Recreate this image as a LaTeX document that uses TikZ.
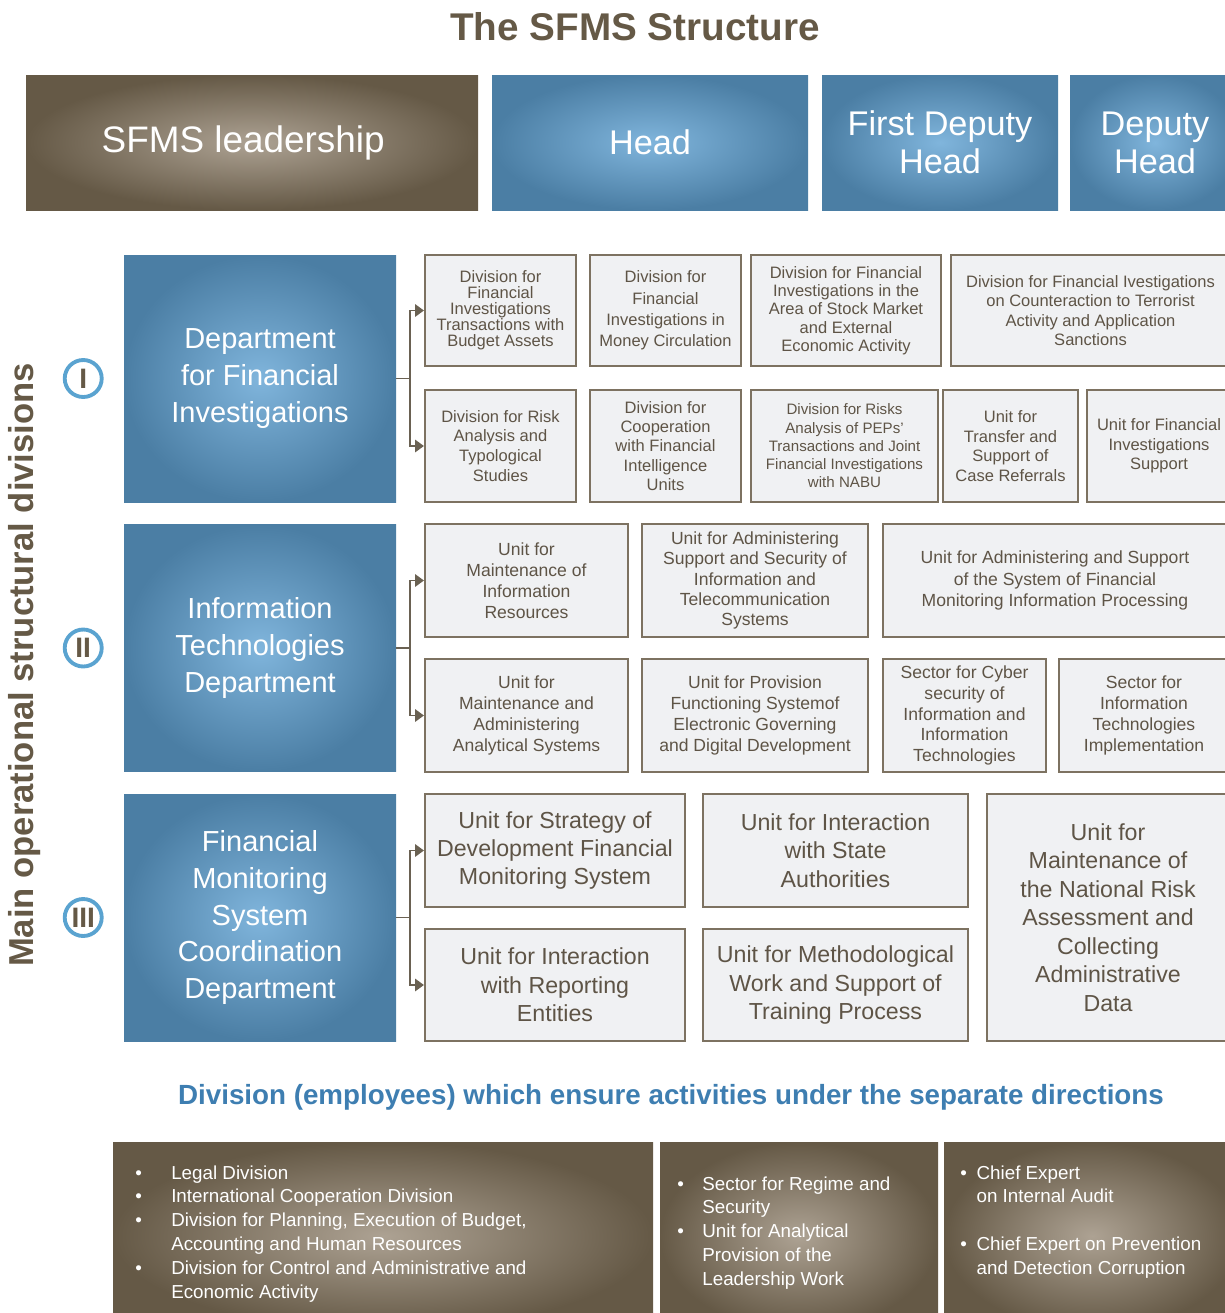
\documentclass[tikz,border=0pt]{standalone}
\usepackage{fontspec}
\setmainfont{Liberation Sans}
\usepackage{xcolor}
\usepackage{tikz}
\usetikzlibrary{arrows.meta, positioning}

\definecolor{sfmsbrown}{HTML}{655946}
\definecolor{sfmsbrownlight}{HTML}{ADA293}
\definecolor{sfmsblue}{HTML}{4B7EA4}
\definecolor{sfmsbluelight}{HTML}{80B5DC}
\definecolor{boxfill}{HTML}{F0F1F3}
\definecolor{boxline}{HTML}{7D7261}
\definecolor{boxtext}{HTML}{5E5446}
\definecolor{ringblue}{HTML}{5AA3D0}
\definecolor{headblue}{HTML}{3E7EB1}

\begin{document}
\begin{tikzpicture}[
				x=0.02cm, y=-0.02cm,
				% Defining node styles
				sz/.style 2 args={minimum width=#1*0.02cm, minimum height=#2*0.02cm},
				lead/.style={rectangle, inner color=sfmsbrownlight, outer color=sfmsbrown, text=white, align=center, font=\fontsize{21}{21.5}\selectfont},
				chief/.style={rectangle, inner color=sfmsbluelight, outer color=sfmsblue, text=white, align=center, font=\fontsize{19.5}{21.5}\selectfont},
				dept/.style={rectangle, inner color=sfmsbluelight, outer color=sfmsblue, text=white, align=center, sz={272}{247}, font=\fontsize{16.5}{21}\selectfont},
				unit/.style={rectangle, fill=boxfill, draw=boxline, line width=1.2pt, text=boxtext, align=center, inner sep=1pt, font=\fontsize{9.4}{11}\selectfont},
				itunit/.style={unit, font=\fontsize{10}{11.9}\selectfont},
				bigunit/.style={unit, font=\fontsize{13.2}{16.2}\selectfont},
				numring/.style={circle, draw=ringblue, line width=2.2pt, minimum size=0.74cm, inner sep=0pt, text=sfmsbrown, font=\fontsize{16}{16}\bfseries\selectfont},
				link/.style={draw=boxline!85!black, line width=1pt},
				conn/.style={link, -{Triangle[length=5pt, width=7pt]}},
				bottom/.style={rectangle, inner color=sfmsbrownlight, outer color=sfmsbrown},
				bullets/.style={text=white, inner sep=0pt, anchor=base west, font=\fontsize{10.7}{13.6}\selectfont}
			]

			\useasboundingbox (0,0) rectangle (1225,1313);
			\clip (0,0) rectangle (1225,1313);

			% Title and side caption
			\node[text=sfmsbrown, font=\fontsize{22}{22}\bfseries\selectfont] (title) at (635,27) {The SFMS Structure};
			\node[rotate=90, text=sfmsbrown, font=\fontsize{19.7}{20}\bfseries\selectfont] (side) at (25,665) {Main operational structural divisions};

			% Leadership row
			\node[lead, sz={452}{135}] (lead) at (252,142.5) {SFMS leadership\hspace*{10pt}};
			\node[chief, sz={316}{135}] (head) at (650,142.5) {Head};
			\node[chief, sz={236}{135}] (fdhead) at (940,142.5) {First Deputy\\Head};
			\node[chief, sz={170}{135}] (dhead) at (1155,142.5) {Deputy\\Head};

			% Departments
			\node[dept] (dfi) at (260,378.5) {Department\\for Financial\\Investigations};
			\node[dept] (dit) at (260,648) {Information\\Technologies\\Department};
			\node[dept] (dfm) at (260,917.5) {Financial\\Monitoring\\System\\Coordination\\Department};

			\node[numring, left=0.4cm of dfi] (n1) {I};
			\node[numring, left=0.4cm of dit] (n2) {II};
			\node[numring, left=0.4cm of dfm] (n3) {III};

			% Department for Financial Investigations
			\node[unit, sz={151}{111}, font=\fontsize{9.4}{9.1}\selectfont] (b11) at (500.5,310.5) {Division for\\Financial\\Investigations\\Transactions with\\Budget Assets};
			\node[unit, sz={151}{111}, font=\fontsize{9.4}{12.2}\selectfont] (b12) at (665.5,310.5) {Division for\\Financial\\Investigations in\\Money Circulation};
			\node[unit, sz={190}{111}, font=\fontsize{9.4}{10.4}\selectfont] (b13) at (846,310.5) {Division for Financial\\Investigations in the\\Area of Stock Market\\and External\\Economic Activity};
			\node[unit, sz={279}{111}] (b14) at (1090.5,310.5) {Division for Financial Ivestigations\\on Counteraction to Terrorist\\Activity and Application\\Sanctions};
			\node[unit, sz={151}{112}, font=\fontsize{9.4}{11.3}\selectfont] (b21) at (500.5,446) {Division for Risk\\Analysis and\\Typological\\Studies};
			\node[unit, sz={151}{112}] (b22) at (665.5,446) {Division for\\Cooperation\\with Financial\\Intelligence\\Units};
			\node[unit, sz={187}{112}, font=\fontsize{8.6}{10.4}\selectfont] (b23) at (844.5,446) {Division for Risks\\Analysis of PEPs’\\Transactions and Joint\\Financial Investigations\\with NABU};
			\node[unit, sz={135}{112}, font=\fontsize{9.4}{11.2}\selectfont] (b24) at (1010.5,446) {Unit for\\Transfer and\\Support of\\Case Referrals};
			\node[unit, sz={144}{112}] (b25) at (1159,446) {Unit for Financial\\Investigations\\Support};

			% Information Technologies Department
			\node[itunit, sz={203}{113}] (c11) at (526.5,580.5) {Unit for\\Maintenance of\\Information\\Resources};
			\node[itunit, sz={226}{113}, font=\fontsize{10}{11.5}\selectfont] (c12) at (755,580.5) {Unit for Administering\\Support and Security of\\Information and\\Telecommunication\\Systems};
			\node[itunit, sz={344}{113}, font=\fontsize{10}{12.2}\selectfont] (c13) at (1055,580.5) {Unit for Administering and Support\\of the System of Financial\\Monitoring Information Processing};
			\node[itunit, sz={203}{113}] (c21) at (526.5,715.5) {Unit for\\Maintenance and\\Administering\\Analytical Systems};
			\node[itunit, sz={226}{113}] (c22) at (755,715.5) {Unit for Provision\\Functioning Systemof\\Electronic Governing\\and Digital Development};
			\node[itunit, sz={163}{113}] (c23) at (964.5,715.5) {Sector for Cyber\\security of\\Information and\\Information\\Technologies};
			\node[itunit, sz={170}{113}] (c24) at (1144,715.5) {Sector for\\Information\\Technologies\\Implementation};

			% Financial Monitoring System Coordination Department
			\node[bigunit, sz={260}{113}] (d11) at (555,850.5) {Unit for Strategy of\\Development Financial\\Monitoring System};
			\node[bigunit, sz={265}{113}] (d12) at (835.5,850.5) {Unit for Interaction\\with State\\Authorities};
			\node[bigunit, sz={242}{247}] (d13) at (1108,917.5) {Unit for\\Maintenance of\\the National Risk\\Assessment and\\Collecting\\Administrative\\Data};
			\node[bigunit, sz={260}{112}] (d21) at (555,985) {Unit for Interaction\\with Reporting\\Entities};
			\node[bigunit, sz={265}{112}] (d22) at (835.5,985) {Unit for Methodological\\Work and Support of\\Training Process};

			% Drawing connections
			\draw[link] (dfi.east) -- ++(14,0) coordinate (jfi);
			\draw[conn] (jfi) |- (b11.west);
			\draw[conn] (jfi) |- (b21.west);
			\draw[link] (dit.east) -- ++(14,0) coordinate (jit);
			\draw[conn] (jit) |- (c11.west);
			\draw[conn] (jit) |- (c21.west);
			\draw[link] (dfm.east) -- ++(14,0) coordinate (jfm);
			\draw[conn] (jfm) |- (d11.west);
			\draw[conn] (jfm) |- (d21.west);

			% Separate directions
			\node[text=headblue, font=\fontsize{15.8}{16}\bfseries\selectfont] (sep) at (671,1097) {Division (employees) which ensure activities under the separate directions};

			\node[bottom, sz={540}{188}] (e1) at (383,1236) {};
			\node[bottom, sz={278}{188}] (e2) at (799,1236) {};
			\node[bottom, sz={296}{188}] (e3) at (1092,1236) {};

			\node[bullets] (e1t) at (135,1179) {\begin{tabular}[t]{@{}l@{\hspace{16.7pt}}l@{}}
				\textbullet & Legal Division\\
				\textbullet & International Cooperation Division\\
				\textbullet & Division for Planning, Execution of Budget,\\
				 & Accounting and Human Resources\\
				\textbullet & Division for Control and Administrative and\\
				 & Economic Activity
			\end{tabular}};
			\node[bullets] (e2t) at (677,1190) {\begin{tabular}[t]{@{}l@{\hspace{10.5pt}}l@{}}
				\textbullet & Sector for Regime and\\
				 & Security\\
				\textbullet & Unit for Analytical\\
				 & Provision of the\\
				 & Leadership Work
			\end{tabular}};
			\node[bullets] (e3t) at (960,1179) {\begin{tabular}[t]{@{}l@{\hspace{5.5pt}}l@{}}
				\textbullet & Chief Expert\\
				 & on Internal Audit\\
				 & \\
				\textbullet & Chief Expert on Prevention\\
				 & and Detection Corruption
			\end{tabular}};

		\end{tikzpicture}
\end{document}
